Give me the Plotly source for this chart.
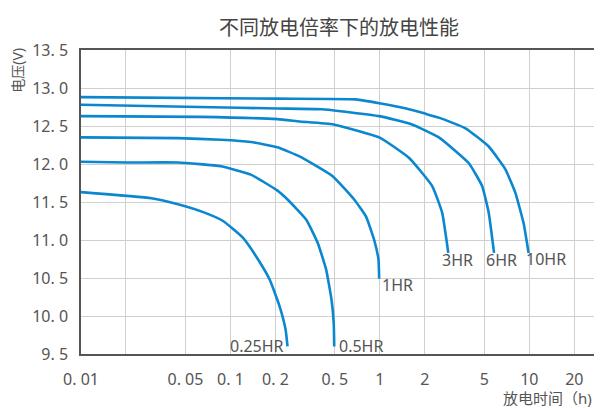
import numpy as np
import plotly.graph_objects as go

# ---------------- data (hours, volts) ----------------
series_names = ["0.25HR", "0.5HR", "1HR", "3HR", "6HR", "10HR"]

hr025_t = [0.01, 0.0296, 0.0446, 0.0671, 0.0893, 0.121, 0.149, 0.183, 0.213, 0.234, 0.241]
hr025_v = [11.63, 11.55, 11.47, 11.36, 11.25, 11.03, 10.78, 10.48, 10.13, 9.82, 9.60]

hr05_t = [0.01, 0.0201, 0.0446, 0.0865, 0.137, 0.2065, 0.242, 0.321, 0.384, 0.437, 0.475, 0.491, 0.495]
hr05_v = [12.03, 12.02, 12.02, 11.97, 11.86, 11.65, 11.53, 11.27, 10.96, 10.61, 10.21, 9.91, 9.60]

hr1_t = [0.01, 0.0446, 0.0865, 0.137, 0.2065, 0.29, 0.483, 0.675, 0.807, 0.916, 0.979, 0.989]
hr1_v = [12.35, 12.34, 12.32, 12.29, 12.22, 12.10, 11.84, 11.53, 11.31, 11.00, 10.74, 10.49]

hr3_t = [0.01, 0.0623, 0.2065, 0.29, 0.49, 0.99, 1.57, 2.24, 2.61, 2.87]
hr3_v = [12.63, 12.62, 12.59, 12.56, 12.52, 12.35, 12.08, 11.71, 11.36, 10.83]

hr6_t = [0.01, 0.0623, 0.2065, 0.412, 0.99, 1.64, 2.48, 3.94, 4.83, 5.35, 5.81]
hr6_v = [12.78, 12.75, 12.73, 12.72, 12.63, 12.52, 12.35, 12.01, 11.71, 11.36, 10.83]

hr10_t = [0.01, 0.2065, 0.692, 0.99, 1.5, 2.03, 2.48, 3.74, 5.35, 6.92, 8.07, 9.16, 9.89]
hr10_v = [12.88, 12.86, 12.85, 12.80, 12.73, 12.66, 12.61, 12.47, 12.23, 11.93, 11.62, 11.22, 10.83]

x_tick_vals = [0.01, 0.02, 0.05, 0.1, 0.2, 0.5, 1, 2, 5, 10, 20]
x_tick_text = ["0. 01", "", "0. 05", "0. 1", "0. 2", "0. 5", "1", "2", "5", "10", "20"]
y_tick_vals = [9.5, 10.0, 10.5, 11.0, 11.5, 12.0, 12.5, 13.0, 13.5]
y_tick_text = ["9. 5", "10. 0", "10. 5", "11. 0", "11. 5", "12. 0", "12. 5", "13. 0", "13. 5"]

title_text = "不同放电倍率下的放电性能"
y_title = "电压(V)"
x_title = "放电时间（h)"

# ---------------- styling ----------------
LINE = "#0a87cf"
TXT = "#555555"
FONT = "Noto Sans, Noto Sans CJK SC, sans-serif"
PAGE_OFF = 8  # page body margin offset compensation

all_t = [hr025_t, hr05_t, hr1_t, hr3_t, hr6_t, hr10_t]
all_v = [hr025_v, hr05_v, hr1_v, hr3_v, hr6_v, hr10_v]
# label placement: (xanchor, xshift, yshift)
label_place = [("right", -2, 0), ("left", 3, 0), ("left", 1, -6),
               ("left", -8, -7), ("left", -10, -7), ("left", -5, -6)]

fig = go.Figure()
for name, t, v in zip(series_names, all_t, all_v):
    fig.add_trace(go.Scatter(x=t, y=v, mode="lines", name=name,
                             line=dict(color=LINE, width=2.6, shape="spline", smoothing=0.4),
                             showlegend=False))

for name, t, v, (xa, xs, ys) in zip(series_names, all_t, all_v, label_place):
    fig.add_annotation(x=np.log10(t[-1]), y=v[-1], xref="x", yref="y", text=name,
                       showarrow=False, xanchor=xa, yanchor="middle", xshift=xs, yshift=ys,
                       font=dict(family=FONT, size=16, color=TXT))

fig.add_annotation(x=-0.1245, y=0.934, xref="paper", yref="paper", text=y_title,
                   textangle=-90, showarrow=False, xanchor="center", yanchor="middle",
                   font=dict(family=FONT, size=14, color=TXT))
fig.add_annotation(x=0.994, y=-0.1447, xref="paper", yref="paper", text=x_title,
                   showarrow=False, xanchor="right", yanchor="middle",
                   font=dict(family=FONT, size=15, color=TXT))

W, H = 602, 408
fig.update_layout(
    width=W, height=H,
    margin=dict(l=81 - PAGE_OFF, r=3 + PAGE_OFF, t=50 - PAGE_OFF, b=54 + PAGE_OFF),
    paper_bgcolor="white", plot_bgcolor="white",
    title=dict(text=title_text, x=0.5, xref="paper", xanchor="center",
               y=1 - (28 - PAGE_OFF) / H, yanchor="middle",
               font=dict(family=FONT, size=20, color="#444444")),
    font=dict(family=FONT, color=TXT),
)
fig.update_xaxes(type="log", range=[-2, 1.453], tickvals=x_tick_vals, ticktext=x_tick_text,
                 showgrid=True, gridcolor="#d0d0d0", gridwidth=1,
                 showline=True, linecolor="#555555", linewidth=1.5, mirror=True,
                 ticks="", ticklabelstandoff=10, zeroline=False,
                 tickfont=dict(family=FONT, size=16, color=TXT))
fig.update_yaxes(range=[9.5, 13.5], tickvals=y_tick_vals, ticktext=y_tick_text,
                 showgrid=True, gridcolor="#d0d0d0", gridwidth=1,
                 showline=True, linecolor="#555555", linewidth=1.5, mirror=True,
                 ticks="", ticklabelstandoff=8, zeroline=False,
                 tickfont=dict(family=FONT, size=16, color=TXT))

fig.write_html("out.html")
